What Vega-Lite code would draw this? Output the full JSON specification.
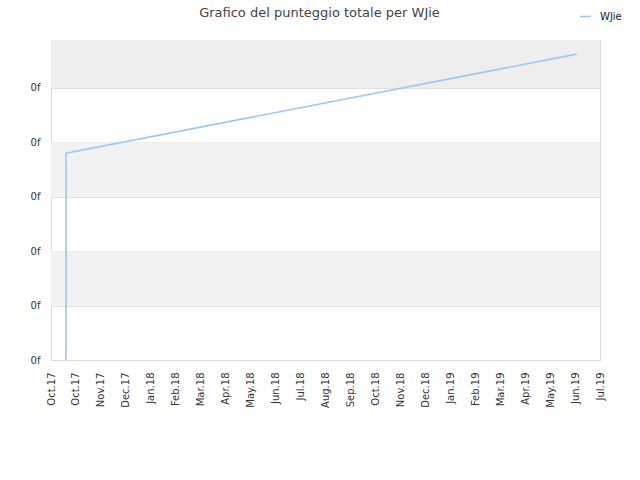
{
  "$schema": "https://vega.github.io/schema/vega-lite/v6.json",
  "width": 549,
  "height": 320,
  "autosize": "none",
  "padding": {"left": 51, "top": 40, "right": 40, "bottom": 120},
  "background": "white",
  "title": {
    "text": "Grafico del punteggio totale per WJie",
    "fontSize": 13,
    "fontWeight": "normal",
    "font": "DejaVu Sans",
    "color": "#444444",
    "anchor": "middle",
    "dx": -6,
    "offset": -10
  },
  "config": {
    "font": "DejaVu Sans",
    "view": {"stroke": "#d9d9d9", "strokeWidth": 1}
  },
  "datasets": {
    "bands": [
      {"lo": 100, "hi": 200, "kind": "alt"},
      {"lo": 300, "hi": 400, "kind": "alt"},
      {"lo": 500, "hi": 588, "kind": "top"}
    ],
    "scores": [
      {"date": "2017-10-19", "step": 1, "score": 0, "name": "WJie"},
      {"date": "2017-10-19", "step": 2, "score": 380, "name": "WJie"},
      {"date": "2019-06-25", "step": 3, "score": 562, "name": "WJie"}
    ]
  },
  "layer": [
    {
      "data": {"name": "bands"},
      "transform": [{"filter": "datum.kind == 'alt'"}],
      "mark": {"type": "rect", "color": "#f2f2f2"},
      "encoding": {
        "y": {
          "field": "lo",
          "type": "quantitative",
          "scale": {"domain": [0, 588], "nice": false},
          "axis": {
            "title": null,
            "values": [0, 100, 200, 300, 400, 500],
            "labelExpr": "'0f'",
            "labelFontSize": 10,
            "labelColor": "#333333",
            "labelPadding": 11,
            "ticks": false,
            "domain": false,
            "grid": true,
            "gridColor": "#e0e0e0"
          }
        },
        "y2": {"field": "hi"}
      }
    },
    {
      "data": {"name": "bands"},
      "transform": [{"filter": "datum.kind == 'top'"}],
      "mark": {"type": "rect", "color": "#eeeeee"},
      "encoding": {
        "y": {"field": "lo", "type": "quantitative"},
        "y2": {"field": "hi"}
      }
    },
    {
      "data": {"name": "scores"},
      "mark": {"type": "line", "strokeWidth": 1.6, "interpolate": "linear"},
      "encoding": {
        "x": {
          "field": "date",
          "type": "temporal",
          "scale": {"type": "utc", "domain": [{"year": 2017, "month": 10, "date": 1, "utc": true}, {"year": 2019, "month": 7, "date": 23, "utc": true}]},
          "axis": {
            "title": null,
            "values": [
              {"year": 2017, "month": 10, "date": 1, "utc": true},
              {"year": 2017, "month": 10, "date": 31, "utc": true},
              {"year": 2017, "month": 11, "date": 30, "utc": true},
              {"year": 2017, "month": 12, "date": 30, "utc": true},
              {"year": 2018, "month": 1, "date": 29, "utc": true},
              {"year": 2018, "month": 2, "date": 28, "utc": true},
              {"year": 2018, "month": 3, "date": 30, "utc": true},
              {"year": 2018, "month": 4, "date": 29, "utc": true},
              {"year": 2018, "month": 5, "date": 29, "utc": true},
              {"year": 2018, "month": 6, "date": 28, "utc": true},
              {"year": 2018, "month": 7, "date": 28, "utc": true},
              {"year": 2018, "month": 8, "date": 27, "utc": true},
              {"year": 2018, "month": 9, "date": 26, "utc": true},
              {"year": 2018, "month": 10, "date": 26, "utc": true},
              {"year": 2018, "month": 11, "date": 25, "utc": true},
              {"year": 2018, "month": 12, "date": 25, "utc": true},
              {"year": 2019, "month": 1, "date": 24, "utc": true},
              {"year": 2019, "month": 2, "date": 23, "utc": true},
              {"year": 2019, "month": 3, "date": 25, "utc": true},
              {"year": 2019, "month": 4, "date": 24, "utc": true},
              {"year": 2019, "month": 5, "date": 24, "utc": true},
              {"year": 2019, "month": 6, "date": 23, "utc": true},
              {"year": 2019, "month": 7, "date": 23, "utc": true}
            ],
            "labelExpr": "utcFormat(datum.value, '%b.%y')",
            "labelAngle": -90,
            "labelAlign": "right",
            "labelBaseline": "middle",
            "labelFontSize": 10,
            "labelColor": "#333333",
            "labelPadding": 12,
            "labelOverlap": false,
            "labelBound": false,
            "labelFlush": false,
            "ticks": false,
            "grid": false,
            "domainColor": "#d9d9d9"
          }
        },
        "y": {"field": "score", "type": "quantitative"},
        "order": {"field": "step", "type": "quantitative"},
        "color": {
          "field": "name",
          "type": "nominal",
          "scale": {"range": ["#9cc7f2"]},
          "legend": {
            "title": null,
            "orient": "none",
            "legendX": 528,
            "legendY": -30,
            "symbolType": "stroke",
            "symbolSize": 121,
            "symbolStrokeWidth": 1.6,
            "labelFontSize": 10,
            "labelColor": "#222222",
            "labelOffset": 8
          }
        }
      }
    }
  ]
}
